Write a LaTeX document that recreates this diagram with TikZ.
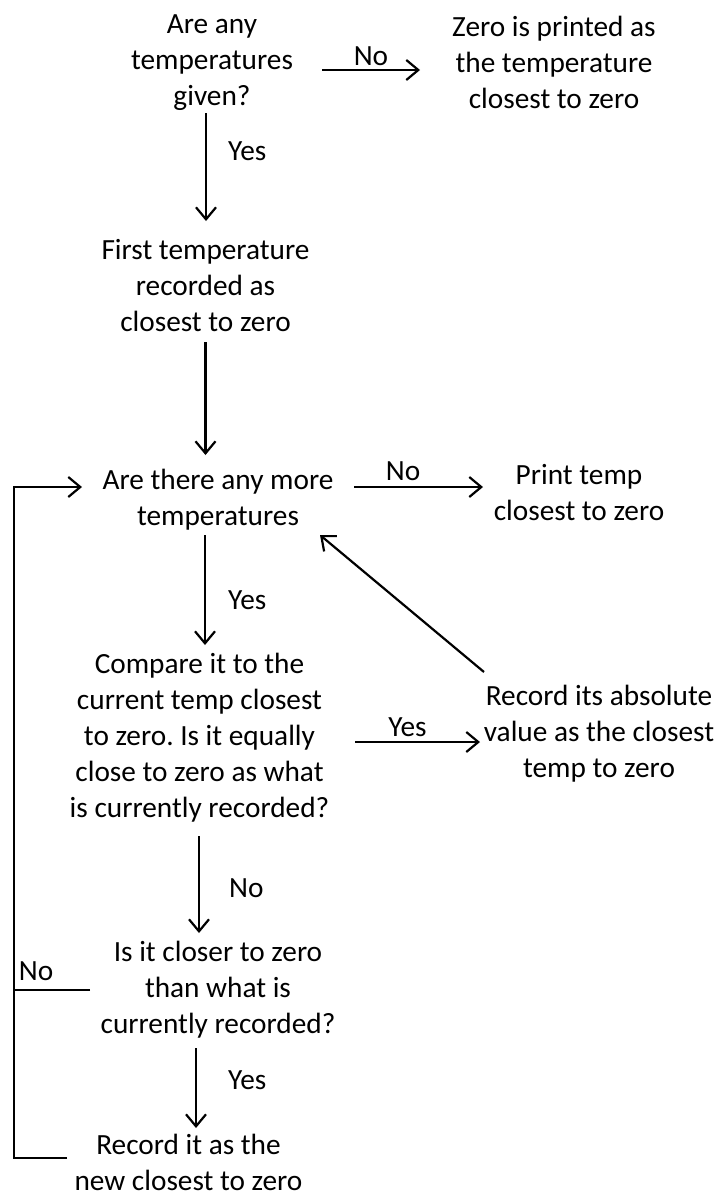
\documentclass[tikz,border=0pt]{standalone}
\usepackage{fontspec}
\setmainfont{Carlito}
\usetikzlibrary{arrows.meta}
\frenchspacing
\begin{document}
\begin{tikzpicture}[x=1pt,y=-1pt,
  txt/.style={align=center,inner sep=0pt,font=\fontsize{29.3}{36}\selectfont},
  lab/.style={inner sep=0pt,font=\fontsize{29.3}{36}\selectfont},
  arr/.style={line width=2.2pt,-{Straight Barb[length=12pt,width=20pt,line width=2.2pt]}},
  ln/.style={line width=2.2pt},
]
\useasboundingbox (0,0) rectangle (722,1194);
\node[txt] (q1) at (212,62.5) {Are any\\temperatures\\given?};
\node[txt] (zero) at (554,62) {Zero is printed as\\the temperature\\closest to zero};
\node[txt] (first) at (205.5,285.5) {First temperature\\recorded as\\closest to zero};
\node[txt] (more) at (218,499.5) {Are there any more\\temperatures};
\node[txt] (print) at (579,492.5) {Print temp\\closest to zero};
\node[txt] (cmp) at (199.5,737.5) {Compare it to the\\current temp closest\\to zero. Is it equally\\close to zero as what\\is currently recorded?};
\node[txt] (rec) at (599,733.5) {Record its absolute\\value as the closest\\temp to zero};
\node[txt] (closer) at (218,989.5) {Is it closer to zero\\than what is\\currently recorded?};
\node[txt] (recnew) at (188.5,1162) {Record it as the\\new closest to zero};

\draw[arr] ([shift={(110,7.5)}]q1.center) -- node[lab,above=3pt]{No} ([shift={(-134,8)}]zero.center);
\draw[arr] ([shift={(-6,50.5)}]q1.center) -- node[lab,pos=0.35,right=21pt]{Yes} ([shift={(0.5,-64.5)}]first.center);
\draw[arr] ([shift={(0,56.5)}]first.center) -- ([shift={(-12.5,-44.5)}]more.center);
\draw[arr] ([shift={(136,-12.5)}]more.center) -- node[lab,pos=0.38,above=5pt]{No} ([shift={(-96,-5.5)}]print.center);
\draw[arr] ([shift={(-13,35.5)}]more.center) -- node[lab,pos=0.59,right=22pt]{Yes} ([shift={(5.5,-92.5)}]cmp.center);
\draw[arr] ([shift={(155.5,4.5)}]cmp.center) -- node[lab,pos=0.42,above=4pt]{Yes} ([shift={(-119,8.5)}]rec.center);
\draw[arr] ([shift={(-115,-61.5)}]rec.center) -- ([shift={(102,35.5)}]more.center);
\draw[arr] ([shift={(-0.5,98.5)}]cmp.center) -- node[lab,pos=0.54,right=29pt]{No} ([shift={(-19,-56.5)}]closer.center);
\draw[arr] ([shift={(-22,58.5)}]closer.center) -- node[lab,pos=0.4,right=31pt]{Yes} ([shift={(7.5,-34)}]recnew.center);
\draw[arr,line join=miter] ([shift={(-121.5,-4)}]recnew.center) -| ([shift={(-204,-12.5)}]more.center) -- ([shift={(-136,-12.5)}]more.center);
\draw[ln] ([shift={(-128,0.5)}]closer.center) -- node[lab,pos=0.71,above=8pt]{No} ([shift={(-204,0.5)}]closer.center);
\end{tikzpicture}
\end{document}
